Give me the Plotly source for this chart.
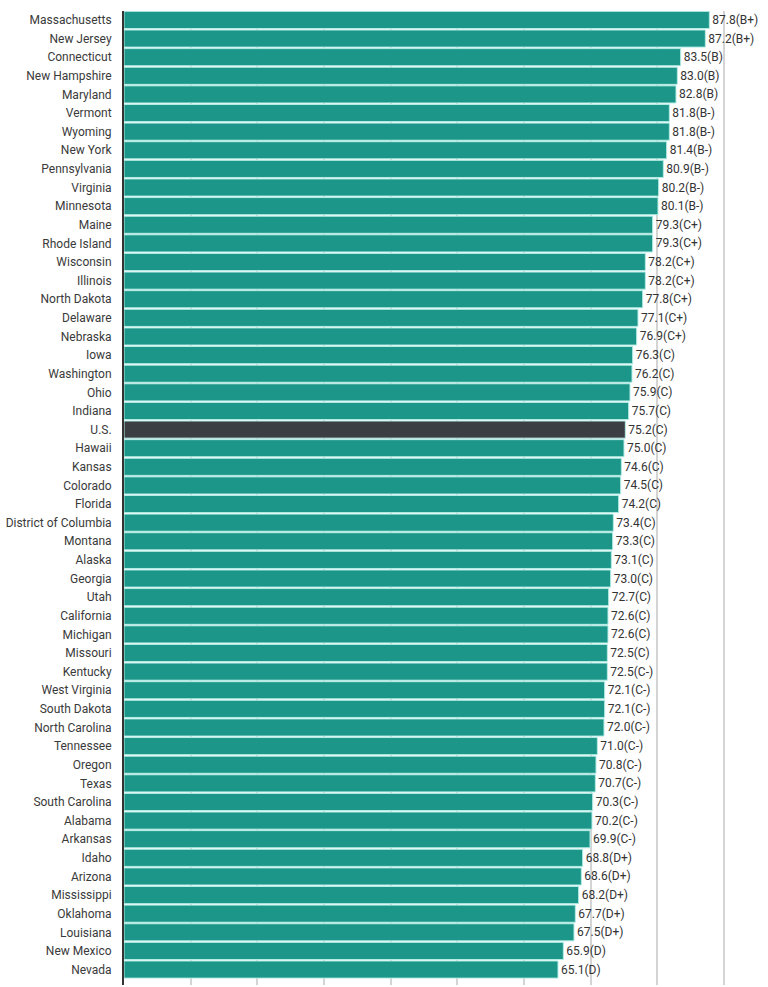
import plotly.graph_objects as go

states = ["Massachusetts", "New Jersey", "Connecticut", "New Hampshire", "Maryland", "Vermont",
          "Wyoming", "New York", "Pennsylvania", "Virginia", "Minnesota", "Maine", "Rhode Island",
          "Wisconsin", "Illinois", "North Dakota", "Delaware", "Nebraska", "Iowa", "Washington",
          "Ohio", "Indiana", "U.S.", "Hawaii", "Kansas", "Colorado", "Florida",
          "District of Columbia", "Montana", "Alaska", "Georgia", "Utah", "California", "Michigan",
          "Missouri", "Kentucky", "West Virginia", "South Dakota", "North Carolina", "Tennessee",
          "Oregon", "Texas", "South Carolina", "Alabama", "Arkansas", "Idaho", "Arizona",
          "Mississippi", "Oklahoma", "Louisiana", "New Mexico", "Nevada"]
scores = [87.8, 87.2, 83.5, 83.0, 82.8, 81.8, 81.8, 81.4, 80.9, 80.2, 80.1, 79.3, 79.3,
          78.2, 78.2, 77.8, 77.1, 76.9, 76.3, 76.2, 75.9, 75.7, 75.2, 75.0, 74.6, 74.5, 74.2,
          73.4, 73.3, 73.1, 73.0, 72.7, 72.6, 72.6, 72.5, 72.5, 72.1, 72.1, 72.0, 71.0,
          70.8, 70.7, 70.3, 70.2, 69.9, 68.8, 68.6, 68.2, 67.7, 67.5, 65.9, 65.1]
grades = ["B+", "B+", "B", "B", "B", "B-", "B-", "B-", "B-", "B-", "B-", "C+", "C+",
          "C+", "C+", "C+", "C+", "C+", "C", "C", "C", "C", "C", "C", "C", "C", "C",
          "C", "C", "C", "C", "C", "C", "C", "C", "C-", "C-", "C-", "C-", "C-",
          "C-", "C-", "C-", "C-", "C-", "D+", "D+", "D+", "D+", "D+", "D", "D"]

labels = [f"{v:.1f}({g})" for v, g in zip(scores, grades)]
colors = ["#3b3f44" if s == "U.S." else "#1b9688" for s in states]

fig = go.Figure(go.Bar(
    x=scores, y=states, orientation="h",
    marker=dict(color=colors, line=dict(color="#b5ece5", width=1)),
    text=labels, textposition="outside", cliponaxis=False,
    textfont=dict(family="Roboto", size=12, color="#333333"),
    hoverinfo="skip",
))

fig.update_layout(
    width=768, height=987,
    margin=dict(l=124, r=0, t=11, b=2),
    paper_bgcolor="white", plot_bgcolor="white",
    bargap=0.08,
    showlegend=False,
    font=dict(family="Roboto", size=12, color="#3a3a3a"),
    xaxis=dict(range=[0, 96.6], dtick=10, tick0=0, showgrid=True, gridcolor="#d4d4d4",
               gridwidth=1.5, showticklabels=False, zeroline=False, showline=False),
    yaxis=dict(type="category", categoryorder="array", categoryarray=states,
               range=[51.83, -0.48], showline=True, linecolor="#333333", linewidth=2,
               ticks="", showgrid=False, ticklabelstandoff=8,
               tickfont=dict(family="Roboto", size=12, color="#3a3a3a")),
)

fig.write_html("out.html")
